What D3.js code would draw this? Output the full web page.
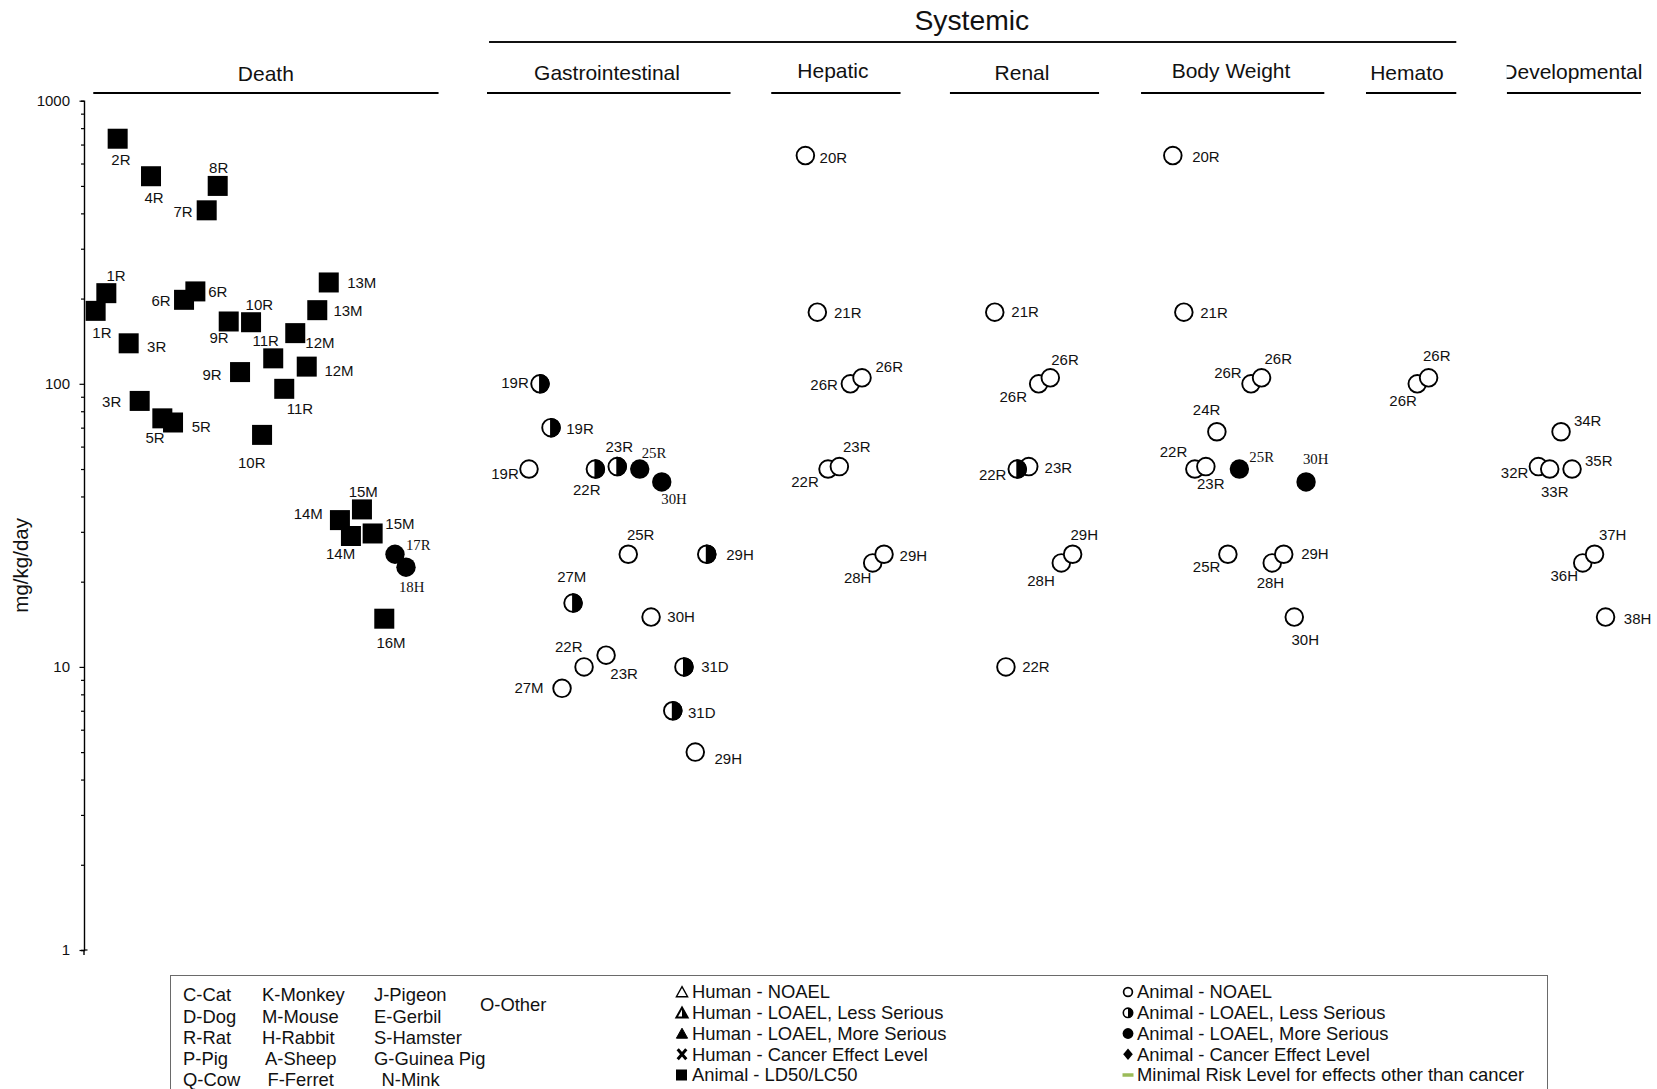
<!DOCTYPE html>
<html>
<head>
<meta charset="utf-8">
<script src="https://cdn.jsdelivr.net/npm/d3@7"></script>
<style>
  html, body { margin: 0; padding: 0; background: #fff; }
  svg { display: block; font-family: "Liberation Sans", Arial, sans-serif; }
</style>
</head>
<body>
<svg id="chart" width="1657" height="1089"></svg>
<script>
// ---- y-axis (mg/kg/day, log scale) ----
const yTickValues = [1, 10, 100, 1000];
const yTickLabels = ["1", "10", "100", "1000"];
const yTitle = "mg/kg/day";

// ---- endpoint groups along the x-axis (plot units 0..100) ----
const endpoints = ["Death", "Gastrointestinal", "Hepatic", "Renal", "Body Weight", "Hemato", "Developmental"];
const endpointStart = [0.59, 25.62, 43.69, 55.05, 67.20, 81.50, 90.46];
const endpointEnd = [22.54, 41.10, 51.91, 64.53, 78.85, 87.24, 98.98];
const endpointLabelAt = [11.56, 33.25, 47.61, 59.63, 72.92, 84.10, 94.62];
const systemicTitle = "Systemic";
const systemicSpan = [25.75, 87.24];
const systemicLabelAt = 56.44;

// ---- study points: figure key, endpoint index, effect, dose, x position ----
// effect codes: L = LD50/LC50, N = NOAEL, S = LOAEL less serious, M = LOAEL more serious
const pointLabel = [
  "2R","4R","8R","7R","1R","1R","6R","6R","3R","9R","10R","11R","12M","13M","13M","9R","12M","11R","3R","5R","5R","10R","15M","14M","14M","15M","17R","18H","16M",
  "19R","19R","19R","22R","23R","25R","30H","25R","29H","27M","30H","23R","22R","31D","27M","31D","29H",
  "20R","21R","26R","26R","22R","23R","28H","29H",
  "21R","26R","26R","22R","23R","28H","29H","22R",
  "20R","21R","26R","26R","24R","22R","23R","25R","30H","25R","28H","29H","30H",
  "26R","26R",
  "34R","32R","33R","35R","36H","37H","38H"
];
const pointGroup = [
  0,0,0,0,0,0,0,0,0,0,0,0,0,0,0,0,0,0,0,0,0,0,0,0,0,0,0,0,0,
  1,1,1,1,1,1,1,1,1,1,1,1,1,1,1,1,1,
  2,2,2,2,2,2,2,2,
  3,3,3,3,3,3,3,3,
  4,4,4,4,4,4,4,4,4,4,4,4,4,
  5,5,
  6,6,6,6,6,6,6
];
const pointEffect = [
  "L","L","L","L","L","L","L","L","L","L","L","L","L","L","L","L","L","L","L","L","L","L","L","L","L","L","M","M","L",
  "S","S","N","S","S","M","M","N","S","S","N","N","N","S","N","S","N",
  "N","N","N","N","N","N","N","N",
  "N","N","N","S","N","N","N","N",
  "N","N","N","N","N","N","N","M","M","N","N","N","N",
  "N","N",
  "N","N","N","N","N","N","N"
];
const pointDose = [
  734,541,500,410,209,181,198,212,139,166,165,123,151,228,182,110,115,96,87,75.5,73,66,36,33,29,29.6,25,22.5,14.8,
  100,70,50,50,51,50,45,25,25,16.8,15,11,10,10,8.4,7,5,
  640,179,100,105,50,51,23.3,25,
  179,100,105,50,51,23.3,25,10,
  640,179,100,105,67.7,50,51,50,45,25,23.3,25,15,
  100,105,
  67.7,51,50,50,23.3,25,15
];
const pointX = [
  2.14,4.26,8.50,7.80,1.42,0.74,6.36,7.08,2.84,9.20,10.62,12.03,13.43,15.56,14.83,9.92,14.16,12.73,3.54,4.98,5.66,11.32,17.67,16.27,16.97,18.35,19.77,20.47,19.09,
  28.99,29.69,28.29,32.51,33.90,35.33,36.73,34.60,39.59,31.09,36.05,33.19,31.79,38.14,30.39,37.43,38.86,
  45.86,46.62,48.72,49.46,47.30,48.02,50.14,50.86,
  57.90,60.69,61.43,59.33,60.06,62.13,62.85,58.61,
  69.22,69.92,74.19,74.86,72.02,70.62,71.32,73.45,77.69,72.72,75.54,76.27,76.94,
  84.76,85.48,
  93.90,92.46,93.18,94.60,95.28,96.03,96.73
];

// label placement around each marker (pixels from the marker centre)
const labelOffset = [
  [3.3,21.3],[3,21.7],[1,-18],[-23.7,1.7],[9.7,-17.3],[6.3,22],[-23,0.7],[22.4,0.7],[28,3.7],[-9.7,16.7],[8.3,-17],[-7.6,-17.6],[24.7,9.4],[33,0.4],[30.7,1],[-28,3],[32.3,4.4],[15.7,19.6],[-28,0.7],[-7.3,19.4],[28.3,4],[-10.3,27.4],[1.3,-18],[-31.7,-6.6],[-10.3,17.3],[27.3,-10],[23.3,-9.3],[5.7,20],[6.7,24.3],
  [-25,-0.7],[29,1],[-24,4.7],[-8.6,20.3],[2,-19.6],[14.3,-16.7],[12.3,17],[12.4,-19],[33.3,0.7],[-1.3,-26],[30,0],[18,18.3],[-15.3,-20],[31,0],[-33,-0.4],[29,2],[33,7],
  [28,1.7],[30.4,1],[-26.3,0.7],[27.3,-11],[-23,12.4],[17.4,-19.4],[-15,14.6],[29.3,1.3],
  [30.3,0],[-25.4,12.7],[14.7,-18.3],[-24.6,5.7],[29.6,1.6],[-20.3,17.7],[11.6,-19],[30,-0.6],
  [33.1,1.6],[30.2,1],[-23.1,-11],[16.7,-18.7],[-10.3,-21.7],[-21.3,-17.7],[4.9,17.3],[22.3,-12],[9.6,-23.3],[-21.3,13],[-1.8,20],[31.2,-0.7],[11,22.7],
  [-14.2,17.4],[8.2,-22],
  [26.6,-11],[-23.8,6],[5,22.7],[26.7,-8.6],[-18.5,12.7],[18.1,-19],[32,2]
];

// ---- legend text ----
const speciesColumns = [
  ["C-Cat", "D-Dog", "R-Rat", "P-Pig", "Q-Cow"],
  ["K-Monkey", "M-Mouse", "H-Rabbit", "A-Sheep", "F-Ferret"],
  ["J-Pigeon", "E-Gerbil", "S-Hamster", "G-Guinea Pig", "N-Mink"]
];
const speciesOther = "O-Other";
const humanLegend = ["Human - NOAEL", "Human - LOAEL, Less Serious", "Human - LOAEL, More Serious", "Human - Cancer Effect Level", "Animal - LD50/LC50"];
const animalLegend = ["Animal - NOAEL", "Animal - LOAEL, Less Serious", "Animal - LOAEL, More Serious", "Animal - Cancer Effect Level", "Minimal Risk Level for effects other than cancer"];

// ================= drawing =================
const svg = d3.select("#chart");
svg.append("rect").attr("width", 1657).attr("height", 1089).attr("fill", "#fff");

const x = d3.scaleLinear().domain([0, 100]).range([84, 1657]);
const y = d3.scaleLog().domain([1, 1000]).range([950, 100.7]);

const isMajor = d => yTickValues.some(v => Math.abs(v - d) < 1e-9);

// y axis
const axisG = svg.append("g").attr("transform", "translate(84,0)");
axisG.call(
  d3.axisLeft(y)
    .tickValues(y.ticks())
    .tickSizeOuter(0)
    .tickSize(3)
    .tickPadding(11)
    .tickFormat(d => {
      const i = yTickValues.findIndex(v => Math.abs(v - d) < 1e-9);
      return i >= 0 ? yTickLabels[i] : "";
    })
);
axisG.select(".domain").attr("stroke", "#000").attr("stroke-width", 1.4);
axisG.selectAll(".tick line").attr("stroke", "#000").attr("stroke-width", 1.2)
  .attr("x2", d => isMajor(d) ? -4.5 : -3);
axisG.selectAll(".tick text")
  .attr("font-family", "'Liberation Sans', Arial, sans-serif")
  .attr("font-size", 15).attr("fill", "#111").attr("x", -14);
// short stub where the axis meets the lowest decade
axisG.append("line").attr("x1", 0).attr("x2", 0).attr("y1", y(1)).attr("y2", y(1) + 5)
  .attr("stroke", "#000").attr("stroke-width", 1.4);
axisG.append("line").attr("x1", 0).attr("x2", 3.5).attr("y1", y(1)).attr("y2", y(1))
  .attr("stroke", "#000").attr("stroke-width", 1.2);

// y title
svg.append("text")
  .attr("transform", `translate(28,${(y(10) + y(100)) / 2 + 40}) rotate(-90)`)
  .attr("text-anchor", "middle")
  .attr("font-size", 20.5).attr("fill", "#111")
  .text(yTitle);

// Systemic heading
svg.append("text")
  .attr("x", x(systemicLabelAt)).attr("y", 29.5)
  .attr("text-anchor", "middle").attr("font-size", 28.3).attr("fill", "#111")
  .text(systemicTitle);
svg.append("line")
  .attr("x1", x(systemicSpan[0])).attr("x2", x(systemicSpan[1]))
  .attr("y1", 42).attr("y2", 42)
  .attr("stroke", "#111").attr("stroke-width", 2);

// endpoint headings (the last one sits in a box narrower than its text)
const headBaseline = [81, 80, 77.5, 80, 77.5, 80, 79];
const defs = svg.append("defs");
defs.append("clipPath").attr("id", "devClip")
  .append("rect").attr("x", x(endpointStart[6]) - 0.3).attr("y", 40).attr("width", 200).attr("height", 60);

endpoints.forEach((name, i) => {
  svg.append("line")
    .attr("x1", x(endpointStart[i])).attr("x2", x(endpointEnd[i]))
    .attr("y1", 93).attr("y2", 93)
    .attr("stroke", "#000").attr("stroke-width", 2.2);
  const t = svg.append("text")
    .attr("x", x(endpointLabelAt[i])).attr("y", headBaseline[i])
    .attr("text-anchor", "middle").attr("font-size", 21).attr("fill", "#111")
    .text(name);
  if (i === endpoints.length - 1) t.attr("clip-path", "url(#devClip)");
});

// points
const pts = pointLabel.map((lab, i) => ({
  label: lab, group: pointGroup[i], effect: pointEffect[i],
  dose: pointDose[i], xv: pointX[i], off: labelOffset[i]
}));

const layerOrder = ["N", "S", "M", "L"];
const markG = svg.append("g");
const R = 8.8;
layerOrder.forEach(eff => {
  pts.filter(p => p.effect === eff).forEach(p => {
    const cx = x(p.xv), cy = y(p.dose);
    if (eff === "L") {
      markG.append("rect").attr("x", cx - 10).attr("y", cy - 10)
        .attr("width", 20).attr("height", 20).attr("fill", "#000");
    } else if (eff === "M") {
      markG.append("circle").attr("cx", cx).attr("cy", cy).attr("r", 9.7).attr("fill", "#000");
    } else {
      markG.append("circle").attr("cx", cx).attr("cy", cy).attr("r", R)
        .attr("fill", "#fff").attr("stroke", "#000").attr("stroke-width", 1.9);
      if (eff === "S") {
        markG.append("path")
          .attr("d", `M${cx},${cy - R} A${R},${R} 0 0 1 ${cx},${cy + R} Z`)
          .attr("fill", "#000").attr("stroke", "#000").attr("stroke-width", 1.9);
      }
    }
  });
});

const labG = svg.append("g");
pts.forEach(p => {
  const serif = p.effect === "M";
  labG.append("text")
    .attr("x", x(p.xv) + p.off[0])
    .attr("y", y(p.dose) + p.off[1])
    .attr("dy", "0.35em")
    .attr("text-anchor", "middle")
    .attr("font-family", serif ? "'Liberation Serif', 'Times New Roman', serif" : "'Liberation Sans', Arial, sans-serif")
    .attr("font-size", serif ? 14.8 : 15)
    .attr("fill", "#111")
    .text(p.label);
});

// ---- legend ----
const leg = svg.append("g").attr("font-size", 18.4).attr("fill", "#111");
leg.append("rect").attr("x", 170.5).attr("y", 975.5).attr("width", 1377).attr("height", 140)
  .attr("fill", "#fff").attr("stroke", "#6a6a6a").attr("stroke-width", 1);

const speciesColX = [183, 262, 374];
const speciesRowY = [995, 1016.5, 1038, 1059, 1080];
const speciesIndent = [[0,0,0,0,0],[0,0,0,3,5.5],[0,0,0,0,7.5]];
speciesColumns.forEach((col, c) => col.forEach((s, r) => {
  leg.append("text").attr("x", speciesColX[c] + speciesIndent[c][r]).attr("y", speciesRowY[r])
    .attr("dy", "0.35em").text(s);
}));
leg.append("text").attr("x", 480).attr("y", 1005).attr("dy", "0.35em").text(speciesOther);

const legRowY = [992, 1012.8, 1033.5, 1054.3, 1075];
humanLegend.forEach((t, i) => {
  leg.append("text").attr("x", 692).attr("y", legRowY[i]).attr("dy", "0.35em").text(t);
});
animalLegend.forEach((t, i) => {
  leg.append("text").attr("x", 1137).attr("y", legRowY[i]).attr("dy", "0.35em").text(t);
});

// legend symbols
const hx = 682, ax = 1128;
const tri = (cx, cy) => `M${cx},${cy - 5.3} L${cx + 5.6},${cy + 4.7} L${cx - 5.6},${cy + 4.7} Z`;
leg.append("path").attr("d", tri(hx, legRowY[0])).attr("fill", "#fff").attr("stroke", "#000").attr("stroke-width", 1.4);
leg.append("path").attr("d", tri(hx, legRowY[1])).attr("fill", "#fff").attr("stroke", "#000").attr("stroke-width", 2);
leg.append("path").attr("d", `M${hx},${legRowY[1] - 5.3} L${hx + 5.6},${legRowY[1] + 4.7} L${hx},${legRowY[1] + 4.7} Z`).attr("fill", "#000");
leg.append("path").attr("d", tri(hx, legRowY[2])).attr("fill", "#000").attr("stroke", "#000").attr("stroke-width", 1);
leg.append("path")
  .attr("d", `M${hx - 4.3},${legRowY[3] - 5} L${hx + 4.3},${legRowY[3] + 5} M${hx + 4.3},${legRowY[3] - 5} L${hx - 4.3},${legRowY[3] + 5}`)
  .attr("stroke", "#000").attr("stroke-width", 3);
leg.append("rect").attr("x", hx - 6).attr("y", legRowY[4] - 5.5).attr("width", 11).attr("height", 11).attr("fill", "#000");

leg.append("circle").attr("cx", ax).attr("cy", legRowY[0]).attr("r", 4.4).attr("fill", "#fff").attr("stroke", "#000").attr("stroke-width", 1.7);
leg.append("circle").attr("cx", ax).attr("cy", legRowY[1]).attr("r", 4.7).attr("fill", "#fff").attr("stroke", "#000").attr("stroke-width", 1.6);
leg.append("path").attr("d", `M${ax},${legRowY[1] - 4.7} A4.7,4.7 0 0 1 ${ax},${legRowY[1] + 4.7} Z`).attr("fill", "#000");
leg.append("circle").attr("cx", ax).attr("cy", legRowY[2]).attr("r", 5.4).attr("fill", "#000");
leg.append("path").attr("d", `M${ax},${legRowY[3] - 5.8} L${ax + 4.8},${legRowY[3]} L${ax},${legRowY[3] + 5.8} L${ax - 4.8},${legRowY[3]} Z`).attr("fill", "#000");
leg.append("line").attr("x1", ax - 5.5).attr("x2", ax + 5.5).attr("y1", legRowY[4]).attr("y2", legRowY[4])
  .attr("stroke", "#9bbb59").attr("stroke-width", 3.5);
</script>
</body>
</html>
